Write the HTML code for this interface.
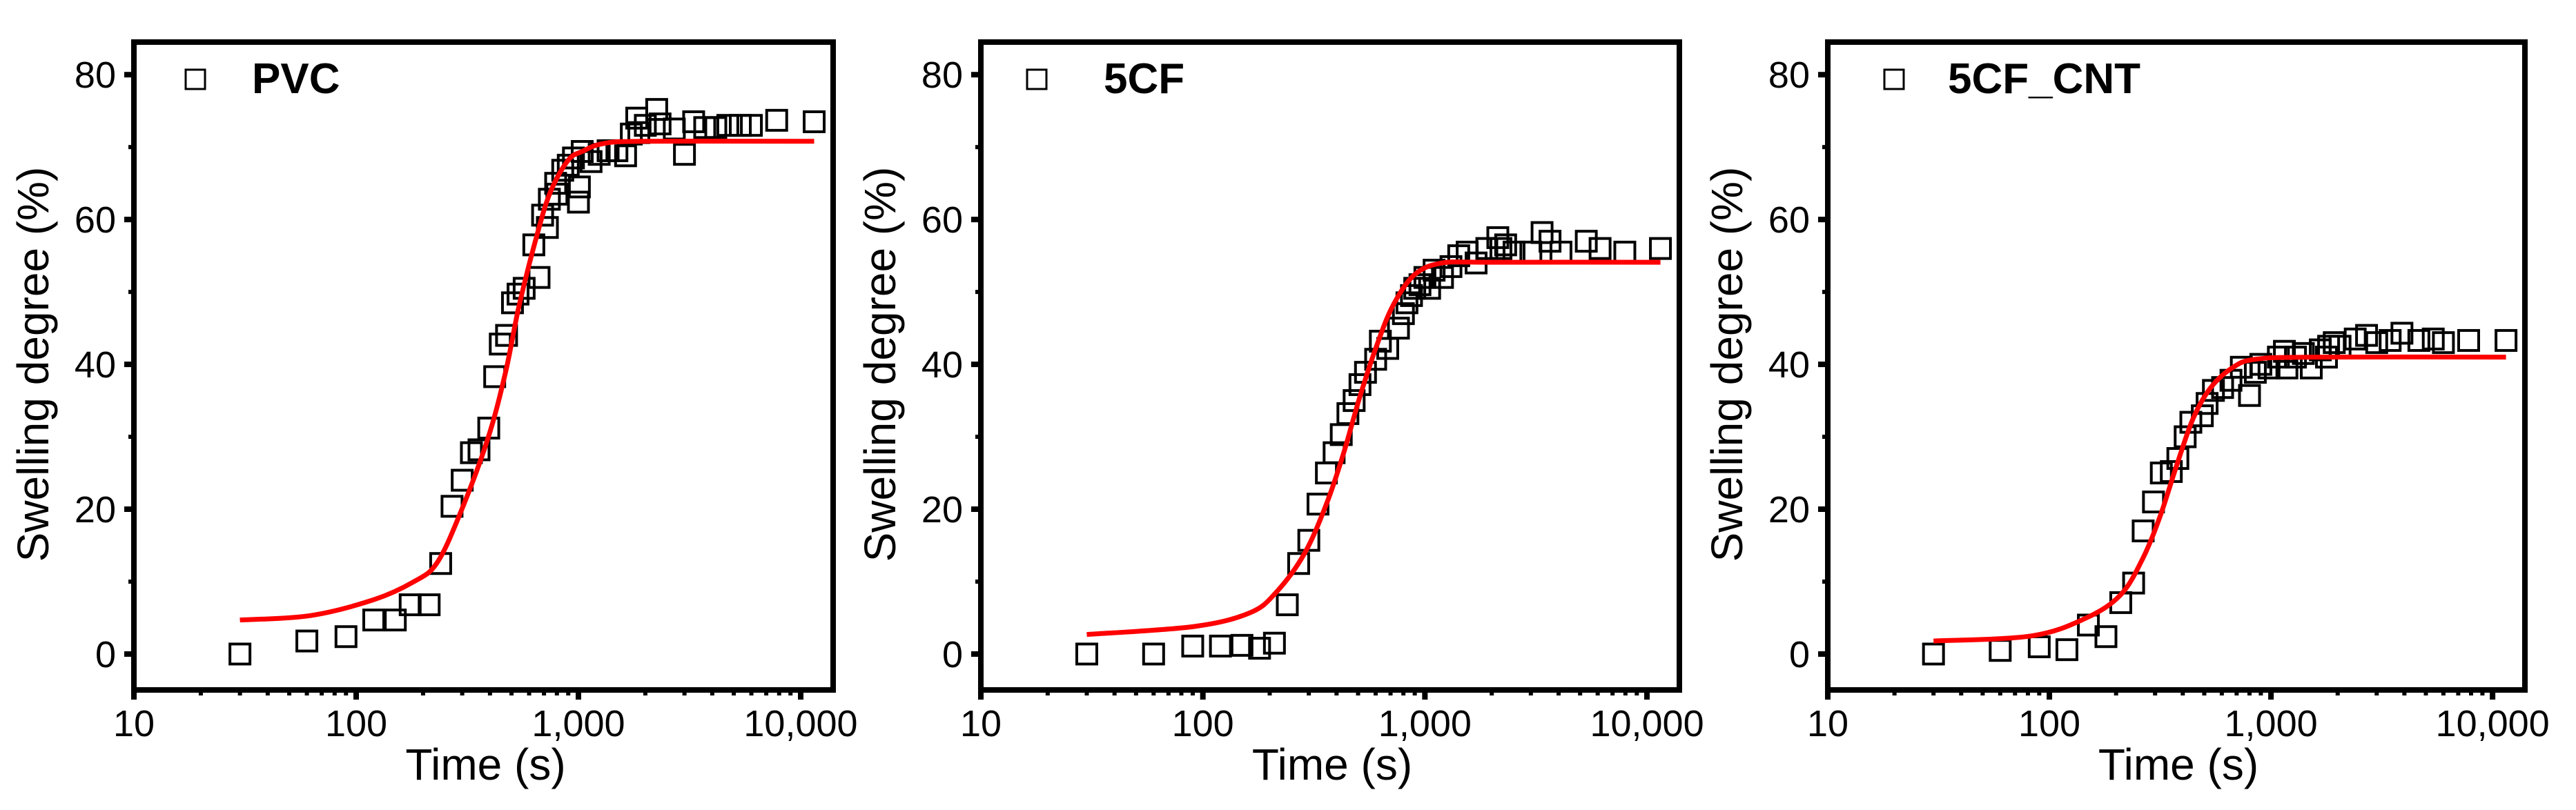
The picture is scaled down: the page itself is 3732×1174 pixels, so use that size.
<!DOCTYPE html>
<html><head><meta charset="utf-8">
<style>
html,body{margin:0;padding:0;background:#fff;}
svg{display:block;font-family:"Liberation Sans",Arial,sans-serif;}
</style></head>
<body>
<svg id="chart" width="3732" height="1174" viewBox="0 0 3732 1174" xmlns="http://www.w3.org/2000/svg">
<rect x="0" y="0" width="3732" height="1174" fill="#fff"/>
</svg>
<script>
// ---- data ----
const xTickValues = [10, 100, 1000, 10000];
const xTickLabels = ["10", "100", "1,000", "10,000"];
const yTickValues = [0, 20, 40, 60, 80];
const yTickLabels = ["0", "20", "40", "60", "80"];
const yMinorValues = [10, 30, 50, 70];

const pvcTime = [30,60,90,120,150,175,213,240,270,300,330,357,395,420,445,475,505,535,570,630,665,690,725,740,790,800,850,900,950,1000,1010,1040,1140,1240,1360,1490,1630,1730,1830,1870,2000,2250,2330,2700,3000,3300,3700,4150,4700,5350,6000,7800,11500];
const pvcSwell = [0,1.8,2.4,4.7,4.7,6.8,6.8,12.5,20.4,24,27.8,28.2,31.2,38.3,42.8,44,48.5,49.7,50.5,56.5,52,60.6,58.9,62.8,65,63.5,66.8,67.5,68.5,62.4,64.5,69.4,68,69,69.5,69.5,68.8,71.8,74,72,73,75.2,73.2,72.5,69,73.5,72.7,72.7,73,73,73,73.7,73.5];
const pvcFitTime = [30,62,120,182,230,290,390,470,540,650,750,900,1040,1300,2000,11500];
const pvcFitSwell = [4.7,5.3,7.5,10,12.5,19,29.6,38.9,48,57.8,63.9,68.2,69.4,70.5,70.8,70.8];

const cfTime = [30,60,90,120,150,180,210,240,270,300,330,360,390,420,450,480,510,540,600,630,680,760,800,830,870,900,950,1000,1050,1100,1200,1310,1420,1550,1700,1900,2130,2200,2310,2520,3000,3370,3660,4100,5330,6150,7950,11500];
const cfSwell = [0,0,1.1,1.1,1.2,0.8,1.5,6.8,12.5,15.7,20.7,25,27.8,30.3,33.2,35,37.2,38.9,40.7,43.2,42.2,45,47,48.5,49.5,50.5,51,52,50.5,53,52,53.5,55,55.5,54,56,57.5,56,56.5,55.5,55.5,58.2,57,55.5,57,56,55.5,56];
const cfFitTime = [30,91,163,215,287,360,428,508,605,720,900,1200,2000,11500];
const cfFitSwell = [2.7,3.8,5.7,8.6,13.9,20.7,27.5,35.4,42.5,48.2,52.4,54,54.1,54.1];

const cntTime = [30,60,90,120,150,180,210,240,265,295,320,355,380,410,435,490,515,550,605,660,735,800,850,900,980,1080,1150,1180,1290,1400,1520,1670,1780,1820,1930,2050,2400,2700,3000,3450,3900,4650,5400,6000,7800,11500];
const cntSwell = [0,0.5,1,0.6,4,2.4,7.1,9.8,17,21,25,25.2,27,30,32,32.9,34.6,36.4,36.8,37.8,39.6,35.7,38.9,40,39.5,41,41.8,39.5,41,41.5,39.5,42,41,42.5,43,42.5,43.5,44,43,43.3,44.3,43.3,43.5,43,43.3,43.3];
const cntFitTime = [30,83,147,210,264,315,375,445,535,675,850,1520,11500];
const cntFitSwell = [1.8,2.5,5,8.2,13.2,18.9,26,32.5,36.8,39.6,40.7,41,41];

const legendLabels = ["PVC", "5CF", "5CF_CNT"];

// ---- layout ----
const NS = "http://www.w3.org/2000/svg";
const svg = document.getElementById("chart");
const TOP = 61, BOTTOM = 1000;
const Y_MIN = -4.96, Y_MAX = 84.5;
const X_MIN_LOG = 1, X_MAX_LOG = 4.146;
const panels = [
  {id:"pvc", left:194, right:1207, time:pvcTime, swell:pvcSwell, fitT:pvcFitTime, fitS:pvcFitSwell, label:legendLabels[0], sqOff:77, txtOff:171},
  {id:"5cf", left:1421, right:2433, time:cfTime, swell:cfSwell, fitT:cfFitTime, fitS:cfFitSwell, label:legendLabels[1], sqOff:69, txtOff:178},
  {id:"5cf-cnt", left:2648, right:3658, time:cntTime, swell:cntSwell, fitT:cntFitTime, fitS:cntFitSwell, label:legendLabels[2], sqOff:84, txtOff:174}
];

function mk(tag, attrs, parent) {
  const e = document.createElementNS(NS, tag);
  for (const k in attrs) e.setAttribute(k, attrs[k]);
  (parent || svg).appendChild(e);
  return e;
}
function yScale(v) { return BOTTOM - (v - Y_MIN) / (Y_MAX - Y_MIN) * (BOTTOM - TOP); }

panels.forEach(p => {
  const xScale = t => p.left + (Math.log10(t) - X_MIN_LOG) / (X_MAX_LOG - X_MIN_LOG) * (p.right - p.left);
  const g = mk("g", {});
  
  

  // fit curve (Catmull-Rom through read points)
  const pts = p.fitT.map((t, i) => [xScale(t), yScale(p.fitS[i])]);
  let d = "M" + pts[0][0].toFixed(1) + "," + pts[0][1].toFixed(1);
  for (let i = 0; i < pts.length - 1; i++) {
    const p0 = pts[Math.max(0, i - 1)], p1 = pts[i], p2 = pts[i + 1], p3 = pts[Math.min(pts.length - 1, i + 2)];
    const c1 = [p1[0] + (p2[0] - p0[0]) / 6, p1[1] + (p2[1] - p0[1]) / 6];
    const c2 = [p2[0] - (p3[0] - p1[0]) / 6, p2[1] - (p3[1] - p1[1]) / 6];
    d += " C" + c1[0].toFixed(1) + "," + c1[1].toFixed(1) + " " + c2[0].toFixed(1) + "," + c2[1].toFixed(1) + " " + p2[0].toFixed(1) + "," + p2[1].toFixed(1);
  }

  // markers
  p.time.forEach((t, i) => {
    const r = mk("rect", {x: xScale(t) - 14.5, y: yScale(p.swell[i]) - 14.5, width: 29, height: 29, fill: "none", stroke: "#000", "stroke-width": 4}, g);
    
    
  });
  const fit = mk("path", {d: d, fill: "none", stroke: "#ff0000", "stroke-width": 7, "stroke-linecap": "butt"}, g);
  
  

  // frame
  const fr = mk("rect", {x: p.left, y: TOP, width: p.right - p.left, height: BOTTOM - TOP, fill: "none", stroke: "#000", "stroke-width": 8}, g);
  
  

  // x ticks
  for (let dec = 1; dec <= 4; dec++) {
    for (let m = 1; m <= 9; m++) {
      const t = m * Math.pow(10, dec);
      if (Math.log10(t) > X_MAX_LOG) continue;
      const x = xScale(t);
      const major = m === 1;
      const tk = mk("line", {x1: x, x2: x, y1: BOTTOM, y2: BOTTOM + (major ? 14 : 8), stroke: "#000", "stroke-width": major ? 8 : 6}, g);
      
      
    }
  }
  xTickValues.forEach((v, i) => {
    const tx = mk("text", {x: xScale(v), y: 1067, "font-size": 54, "text-anchor": "middle", fill: "#000"}, g);
    tx.textContent = xTickLabels[i];
    
    
  });
  // y ticks
  yTickValues.forEach((v, i) => {
    const y = yScale(v);
    const tk = mk("line", {x1: p.left - 14, x2: p.left, y1: y, y2: y, stroke: "#000", "stroke-width": 8}, g);
    
    
    const tx = mk("text", {x: p.left - 26, y: y + 19, "font-size": 54, "text-anchor": "end", fill: "#000"}, g);
    tx.textContent = yTickLabels[i];
    
    
  });
  yMinorValues.forEach(v => {
    const y = yScale(v);
    const tk = mk("line", {x1: p.left - 8, x2: p.left, y1: y, y2: y, stroke: "#000", "stroke-width": 6}, g);
    
    
  });
  // axis titles
  const cx = (p.left + p.right) / 2;
  const xt = mk("text", {x: cx + 3, y: 1130, "font-size": 64, "text-anchor": "middle", fill: "#000"}, g);
  xt.textContent = "Time (s)";
  
  
  const yx = p.left - 124, yy = 528;
  const yt = mk("text", {x: yx, y: yy, "font-size": 64, "text-anchor": "middle", fill: "#000", transform: "rotate(-90 " + yx + " " + yy + ")"}, g);
  yt.textContent = "Swelling degree (%)";
  
  
  // legend
  const ls = mk("rect", {x: p.left + p.sqOff - 2, y: 101, width: 28, height: 28, fill: "none", stroke: "#000", "stroke-width": 3}, g);
  
  
  const lt = mk("text", {x: p.left + p.txtOff, y: 135, "font-size": 62, "font-weight": "bold", fill: "#000"}, g);
  lt.textContent = p.label;
  
  
});
</script>
</body></html>
